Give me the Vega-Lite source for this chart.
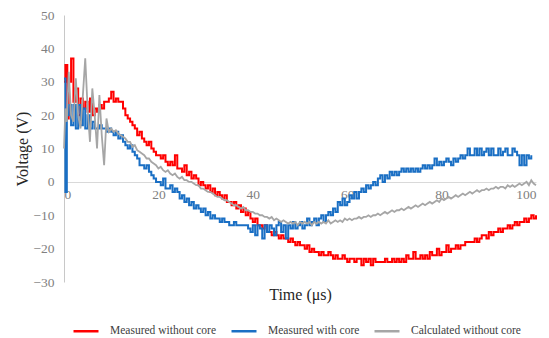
{
"$schema": "https://vega.github.io/schema/vega-lite/v6.json",
"width": 472, "height": 267,
"autosize": "none",
"padding": {"left": 64, "top": 15, "right": 13, "bottom": 56},
"config": {"font": "Liberation Serif", "view": {"stroke": null}, "background": "white"},
"encoding": {
 "x": {"field": "t", "type": "quantitative", "scale": {"domain": [0, 100], "nice": false},
  "axis": {"values": [0,20,40,60,80,100], "offset": -100, "grid": false, "ticks": false, "domainColor": "#D9D9D9", "labelColor": "#808080", "labelFontSize": 13.5, "labelPadding": 5, "title": "Time (μs)", "titleFontSize": 16, "titleFontWeight": "normal", "titleColor": "#262626", "titlePadding": 86}},
 "y": {"field": "v", "type": "quantitative", "scale": {"domain": [-30, 50], "nice": false},
  "axis": {"values": [-30,-20,-10,0,10,20,30,40,50], "grid": false, "ticks": false, "domainColor": "#C8C8C8", "labelColor": "#808080", "labelFontSize": 13.5, "labelPadding": 10, "title": "Voltage (V)", "titleFontSize": 16, "titleFontWeight": "normal", "titleColor": "#262626", "titlePadding": 2}}
},
"layer": [
{"data": {"values": [
{"t":0,"v":30},{"t":0.3,"v":35},{"t":0.7,"v":19},{"t":1,"v":30},{"t":1.5,"v":37},{"t":2,"v":24},{"t":2.5,"v":28},{"t":3,"v":20},{"t":3.5,"v":25},{"t":4,"v":22},{"t":4.5,"v":24},{"t":5,"v":21},{"t":5.5,"v":25},{"t":6,"v":20},{"t":6.5,"v":22},{"t":7,"v":21},{"t":7.5,"v":23},{"t":8,"v":22},{"t":8.5,"v":24},{"t":9,"v":24},{"t":9.5,"v":25},{"t":10,"v":27},{"t":10.5,"v":24},{"t":11,"v":25},{"t":11.5,"v":24},{"t":12,"v":24},{"t":12.5,"v":22},{"t":13,"v":20},{"t":13.5,"v":19},{"t":14,"v":18},{"t":14.5,"v":17},{"t":15,"v":16},{"t":15.5,"v":14},{"t":16,"v":15},{"t":16.5,"v":13},{"t":17,"v":12},{"t":17.5,"v":11},{"t":18,"v":12},{"t":18.5,"v":10},{"t":19,"v":9},{"t":19.5,"v":8},{"t":20,"v":8},{"t":20.5,"v":7},{"t":21,"v":8},{"t":21.5,"v":6},{"t":22,"v":5},{"t":22.5,"v":6},{"t":23,"v":5},{"t":23.5,"v":8},{"t":24,"v":4},{"t":24.5,"v":4},{"t":25,"v":3},{"t":25.5,"v":5},{"t":26,"v":2},{"t":26.5,"v":3},{"t":27,"v":1},{"t":27.5,"v":2},{"t":28,"v":1},{"t":28.5,"v":-1},{"t":29,"v":0},{"t":29.5,"v":-1},{"t":30,"v":-2},{"t":30.5,"v":-1},{"t":31,"v":-3},{"t":31.5,"v":-2},{"t":32,"v":-4},{"t":32.5,"v":-3},{"t":33,"v":-4},{"t":33.5,"v":-5},{"t":34,"v":-4},{"t":34.5,"v":-6},{"t":35,"v":-6},{"t":35.5,"v":-7},{"t":36,"v":-6},{"t":36.5,"v":-8},{"t":37,"v":-7},{"t":37.5,"v":-9},{"t":38,"v":-8},{"t":38.5,"v":-10},{"t":39,"v":-9},{"t":39.5,"v":-11},{"t":40,"v":-12},{"t":40.5,"v":-11},{"t":41,"v":-13},{"t":41.5,"v":-13},{"t":42,"v":-14},{"t":42.5,"v":-13},{"t":43,"v":-15},{"t":43.5,"v":-15},{"t":44,"v":-16},{"t":44.5,"v":-15},{"t":45,"v":-16},{"t":45.5,"v":-17},{"t":46,"v":-16},{"t":46.5,"v":-17},{"t":47,"v":-17},{"t":47.5,"v":-18},{"t":48,"v":-17},{"t":48.5,"v":-18},{"t":49,"v":-19},{"t":49.5,"v":-18},{"t":50,"v":-19},{"t":50.5,"v":-19},{"t":51,"v":-20},{"t":51.5,"v":-19},{"t":52,"v":-21},{"t":52.5,"v":-20},{"t":53,"v":-21},{"t":53.5,"v":-21},{"t":54,"v":-22},{"t":54.5,"v":-21},{"t":55,"v":-22},{"t":55.5,"v":-22},{"t":56,"v":-21},{"t":56.5,"v":-22},{"t":57,"v":-23},{"t":57.5,"v":-22},{"t":58,"v":-23},{"t":58.5,"v":-23},{"t":59,"v":-22},{"t":59.5,"v":-23},{"t":60,"v":-24},{"t":60.5,"v":-23},{"t":61,"v":-23},{"t":61.5,"v":-24},{"t":62,"v":-23},{"t":62.5,"v":-23},{"t":63,"v":-25},{"t":63.5,"v":-23},{"t":64,"v":-24},{"t":64.5,"v":-23},{"t":65,"v":-25},{"t":65.5,"v":-23},{"t":66,"v":-24},{"t":66.5,"v":-24},{"t":67,"v":-24},{"t":67.5,"v":-24},{"t":68,"v":-23},{"t":68.5,"v":-24},{"t":69,"v":-24},{"t":69.5,"v":-23},{"t":70,"v":-24},{"t":70.5,"v":-23},{"t":71,"v":-24},{"t":71.5,"v":-23},{"t":72,"v":-24},{"t":72.5,"v":-22},{"t":73,"v":-23},{"t":73.5,"v":-23},{"t":74,"v":-21},{"t":74.5,"v":-23},{"t":75,"v":-23},{"t":75.5,"v":-22},{"t":76,"v":-23},{"t":76.5,"v":-22},{"t":77,"v":-23},{"t":77.5,"v":-21},{"t":78,"v":-22},{"t":78.5,"v":-22},{"t":79,"v":-20},{"t":79.5,"v":-22},{"t":80,"v":-21},{"t":80.5,"v":-21},{"t":81,"v":-19},{"t":81.5,"v":-21},{"t":82,"v":-20},{"t":82.5,"v":-20},{"t":83,"v":-19},{"t":83.5,"v":-20},{"t":84,"v":-19},{"t":84.5,"v":-19},{"t":85,"v":-18},{"t":85.5,"v":-18},{"t":86,"v":-18},{"t":86.5,"v":-18},{"t":87,"v":-17},{"t":87.5,"v":-18},{"t":88,"v":-17},{"t":88.5,"v":-16},{"t":89,"v":-16},{"t":89.5,"v":-17},{"t":90,"v":-15},{"t":90.5,"v":-16},{"t":91,"v":-15},{"t":91.5,"v":-15},{"t":92,"v":-14},{"t":92.5,"v":-15},{"t":93,"v":-14},{"t":93.5,"v":-14},{"t":94,"v":-13},{"t":94.5,"v":-14},{"t":95,"v":-13},{"t":95.5,"v":-12},{"t":96,"v":-13},{"t":96.5,"v":-12},{"t":97,"v":-12},{"t":97.5,"v":-11},{"t":98,"v":-12},{"t":98.5,"v":-11},{"t":99,"v":-10},{"t":99.5,"v":-11},{"t":100,"v":-10}
]},
 "mark": {"type": "line", "strokeWidth": 2, "interpolate": "step-after"},
 "encoding": {"color": {"datum": "Measured without core", "type": "nominal",
   "scale": {"domain": ["Measured without core", "Measured with core", "Calculated without core"], "range": ["#FF0000", "#1A6FC4", "#A6A6A6"]},
   "legend": {"orient": "none", "legendX": 8, "legendY": 302, "direction": "horizontal", "title": null, "symbolType": "stroke", "symbolSize": 625, "symbolStrokeWidth": 2.5, "labelFontSize": 11.5, "labelColor": "#404040", "labelOffset": 10, "columnPadding": 9, "labelLimit": 300, "labelBaseline": "middle", "padding": 0, "offset": 0}}}},
{"data": {"values": [
{"t":0,"v":31},{"t":0.3,"v":-3},{"t":0.6,"v":20},{"t":1,"v":23},{"t":1.5,"v":17},{"t":2,"v":23},{"t":2.5,"v":16},{"t":3,"v":23},{"t":3.5,"v":17},{"t":4,"v":22},{"t":4.5,"v":16},{"t":5,"v":20},{"t":5.5,"v":16},{"t":6,"v":18},{"t":6.5,"v":16},{"t":7,"v":16},{"t":7.5,"v":17},{"t":8,"v":16},{"t":8.5,"v":16},{"t":9,"v":15},{"t":9.5,"v":16},{"t":10,"v":15},{"t":10.5,"v":14},{"t":11,"v":15},{"t":11.5,"v":13},{"t":12,"v":14},{"t":12.5,"v":12},{"t":13,"v":11},{"t":13.5,"v":10},{"t":14,"v":11},{"t":14.5,"v":9},{"t":15,"v":8},{"t":15.5,"v":7},{"t":16,"v":5},{"t":16.5,"v":5},{"t":17,"v":4},{"t":17.5,"v":5},{"t":18,"v":3},{"t":18.5,"v":2},{"t":19,"v":1},{"t":19.5,"v":0},{"t":20,"v":0},{"t":20.5,"v":-1},{"t":21,"v":1},{"t":21.5,"v":-2},{"t":22,"v":-2},{"t":22.5,"v":-1},{"t":23,"v":-3},{"t":23.5,"v":-2},{"t":24,"v":-3},{"t":24.5,"v":-5},{"t":25,"v":-4},{"t":25.5,"v":-6},{"t":26,"v":-5},{"t":26.5,"v":-7},{"t":27,"v":-6},{"t":27.5,"v":-8},{"t":28,"v":-7},{"t":28.5,"v":-8},{"t":29,"v":-9},{"t":29.5,"v":-8},{"t":30,"v":-10},{"t":30.5,"v":-9},{"t":31,"v":-11},{"t":31.5,"v":-10},{"t":32,"v":-11},{"t":32.5,"v":-11},{"t":33,"v":-12},{"t":33.5,"v":-11},{"t":34,"v":-12},{"t":34.5,"v":-12},{"t":35,"v":-13},{"t":35.5,"v":-13},{"t":36,"v":-12},{"t":36.5,"v":-13},{"t":37,"v":-13},{"t":37.5,"v":-13},{"t":38,"v":-13},{"t":38.5,"v":-13},{"t":39,"v":-14},{"t":39.5,"v":-15},{"t":40,"v":-13},{"t":40.5,"v":-16},{"t":41,"v":-13},{"t":41.5,"v":-14},{"t":42,"v":-17},{"t":42.5,"v":-13},{"t":43,"v":-15},{"t":43.5,"v":-13},{"t":44,"v":-14},{"t":44.5,"v":-16},{"t":45,"v":-13},{"t":45.5,"v":-12},{"t":46,"v":-15},{"t":46.5,"v":-13},{"t":47,"v":-17},{"t":47.5,"v":-13},{"t":48,"v":-14},{"t":48.5,"v":-12},{"t":49,"v":-14},{"t":49.5,"v":-13},{"t":50,"v":-12},{"t":50.5,"v":-14},{"t":51,"v":-13},{"t":51.5,"v":-11},{"t":52,"v":-13},{"t":52.5,"v":-12},{"t":53,"v":-11},{"t":53.5,"v":-13},{"t":54,"v":-11},{"t":54.5,"v":-10},{"t":55,"v":-12},{"t":55.5,"v":-10},{"t":56,"v":-9},{"t":56.5,"v":-10},{"t":57,"v":-8},{"t":57.5,"v":-9},{"t":58,"v":-6},{"t":58.5,"v":-7},{"t":59,"v":-5},{"t":59.5,"v":-7},{"t":60,"v":-6},{"t":60.5,"v":-4},{"t":61,"v":-5},{"t":61.5,"v":-3},{"t":62,"v":-5},{"t":62.5,"v":-3},{"t":63,"v":-2},{"t":63.5,"v":-3},{"t":64,"v":-1},{"t":64.5,"v":-2},{"t":65,"v":-1},{"t":65.5,"v":0},{"t":66,"v":-1},{"t":66.5,"v":1},{"t":67,"v":2},{"t":67.5,"v":0},{"t":68,"v":2},{"t":68.5,"v":1},{"t":69,"v":3},{"t":69.5,"v":2},{"t":70,"v":3},{"t":70.5,"v":2},{"t":71,"v":3},{"t":71.5,"v":4},{"t":72,"v":3},{"t":72.5,"v":4},{"t":73,"v":3},{"t":73.5,"v":4},{"t":74,"v":3},{"t":74.5,"v":4},{"t":75,"v":3},{"t":75.5,"v":4},{"t":76,"v":5},{"t":76.5,"v":4},{"t":77,"v":5},{"t":77.5,"v":4},{"t":78,"v":5},{"t":78.5,"v":7},{"t":79,"v":5},{"t":79.5,"v":6},{"t":80,"v":5},{"t":80.5,"v":6},{"t":81,"v":7},{"t":81.5,"v":6},{"t":82,"v":5},{"t":82.5,"v":7},{"t":83,"v":6},{"t":83.5,"v":7},{"t":84,"v":8},{"t":84.5,"v":7},{"t":85,"v":8},{"t":85.5,"v":10},{"t":86,"v":8},{"t":86.5,"v":8},{"t":87,"v":10},{"t":87.5,"v":8},{"t":88,"v":10},{"t":88.5,"v":8},{"t":89,"v":9},{"t":89.5,"v":10},{"t":90,"v":8},{"t":90.5,"v":10},{"t":91,"v":8},{"t":91.5,"v":8},{"t":92,"v":10},{"t":92.5,"v":8},{"t":93,"v":9},{"t":93.5,"v":10},{"t":94,"v":8},{"t":94.5,"v":8},{"t":95,"v":10},{"t":95.5,"v":9},{"t":96,"v":8},{"t":96.5,"v":5},{"t":97,"v":8},{"t":97.5,"v":5},{"t":98,"v":8},{"t":98.5,"v":7},{"t":99,"v":8}
]},
 "mark": {"type": "line", "strokeWidth": 2, "interpolate": "step-after"},
 "encoding": {"color": {"datum": "Measured with core", "type": "nominal"}}},
{"data": {"values": [
{"t":0,"v":10},{"t":0.3,"v":22},{"t":0.6,"v":18},{"t":1,"v":33},{"t":1.5,"v":20},{"t":2,"v":18},{"t":2.5,"v":31},{"t":3,"v":20},{"t":3.5,"v":16},{"t":4,"v":26},{"t":4.5,"v":37},{"t":5,"v":22},{"t":5.5,"v":12},{"t":6,"v":28},{"t":6.5,"v":20},{"t":7,"v":10},{"t":7.5,"v":26},{"t":8,"v":14},{"t":8.5,"v":5},{"t":9,"v":19},{"t":9.5,"v":15},{"t":10,"v":16},{"t":10.5,"v":15},{"t":11,"v":15.5},{"t":11.5,"v":14.5},{"t":12,"v":14},{"t":12.5,"v":13.5},{"t":13,"v":13},{"t":13.5,"v":12},{"t":14,"v":12},{"t":14.5,"v":10.5},{"t":15,"v":11},{"t":15.5,"v":9.5},{"t":16,"v":9},{"t":16.5,"v":8.5},{"t":17,"v":8},{"t":17.5,"v":7},{"t":18,"v":7},{"t":18.5,"v":6},{"t":19,"v":5.5},{"t":19.5,"v":5},{"t":20,"v":4},{"t":20.5,"v":4.5},{"t":21,"v":3.5},{"t":21.5,"v":3},{"t":22,"v":3.5},{"t":22.5,"v":2.5},{"t":23,"v":2},{"t":23.5,"v":2.5},{"t":24,"v":1.5},{"t":24.5,"v":1},{"t":25,"v":1.5},{"t":25.5,"v":0.5},{"t":26,"v":0.5},{"t":26.5,"v":0},{"t":27,"v":0},{"t":27.5,"v":-0.5},{"t":28,"v":-1},{"t":28.5,"v":-1},{"t":29,"v":-2},{"t":29.5,"v":-2},{"t":30,"v":-2.5},{"t":30.5,"v":-3},{"t":31,"v":-3},{"t":31.5,"v":-3.5},{"t":32,"v":-4},{"t":32.5,"v":-4.5},{"t":33,"v":-4.5},{"t":33.5,"v":-5},{"t":34,"v":-5.5},{"t":34.5,"v":-5.5},{"t":35,"v":-6},{"t":35.5,"v":-6.5},{"t":36,"v":-7},{"t":36.5,"v":-7},{"t":37,"v":-7.5},{"t":37.5,"v":-8},{"t":38,"v":-7.5},{"t":38.5,"v":-8.5},{"t":39,"v":-8.5},{"t":39.5,"v":-9},{"t":40,"v":-9},{"t":40.5,"v":-9.5},{"t":41,"v":-9.5},{"t":41.5,"v":-10},{"t":42,"v":-10},{"t":42.5,"v":-10.5},{"t":43,"v":-10.5},{"t":43.5,"v":-11},{"t":44,"v":-10.5},{"t":44.5,"v":-11.5},{"t":45,"v":-11},{"t":45.5,"v":-11.5},{"t":46,"v":-12},{"t":46.5,"v":-11.5},{"t":47,"v":-12},{"t":47.5,"v":-12.5},{"t":48,"v":-12},{"t":48.5,"v":-12.5},{"t":49,"v":-12},{"t":49.5,"v":-13},{"t":50,"v":-12},{"t":50.5,"v":-12.5},{"t":51,"v":-12},{"t":51.5,"v":-12.5},{"t":52,"v":-12},{"t":52.5,"v":-13},{"t":53,"v":-12},{"t":53.5,"v":-12.5},{"t":54,"v":-12},{"t":54.5,"v":-12.5},{"t":55,"v":-12},{"t":55.5,"v":-12.5},{"t":56,"v":-11.5},{"t":56.5,"v":-12.5},{"t":57,"v":-12},{"t":57.5,"v":-11.5},{"t":58,"v":-12},{"t":58.5,"v":-11.5},{"t":59,"v":-12},{"t":59.5,"v":-11},{"t":60,"v":-11.5},{"t":60.5,"v":-11},{"t":61,"v":-11.5},{"t":61.5,"v":-11},{"t":62,"v":-11},{"t":62.5,"v":-10.5},{"t":63,"v":-11},{"t":63.5,"v":-10.5},{"t":64,"v":-10.5},{"t":64.5,"v":-10},{"t":65,"v":-10.5},{"t":65.5,"v":-10},{"t":66,"v":-10},{"t":66.5,"v":-9.5},{"t":67,"v":-10},{"t":67.5,"v":-9.5},{"t":68,"v":-9},{"t":68.5,"v":-9.5},{"t":69,"v":-9},{"t":69.5,"v":-8.5},{"t":70,"v":-9},{"t":70.5,"v":-8.5},{"t":71,"v":-8.5},{"t":71.5,"v":-8},{"t":72,"v":-8.5},{"t":72.5,"v":-8},{"t":73,"v":-7.5},{"t":73.5,"v":-8},{"t":74,"v":-7.5},{"t":74.5,"v":-7},{"t":75,"v":-7.5},{"t":75.5,"v":-7},{"t":76,"v":-6.5},{"t":76.5,"v":-7},{"t":77,"v":-6.5},{"t":77.5,"v":-6},{"t":78,"v":-6.5},{"t":78.5,"v":-6},{"t":79,"v":-5.5},{"t":79.5,"v":-6},{"t":80,"v":-5},{"t":80.5,"v":-5.5},{"t":81,"v":-5},{"t":81.5,"v":-4.5},{"t":82,"v":-5},{"t":82.5,"v":-4.5},{"t":83,"v":-4},{"t":83.5,"v":-4.5},{"t":84,"v":-4},{"t":84.5,"v":-3.5},{"t":85,"v":-4},{"t":85.5,"v":-3.5},{"t":86,"v":-3},{"t":86.5,"v":-3.5},{"t":87,"v":-3},{"t":87.5,"v":-2.5},{"t":88,"v":-3},{"t":88.5,"v":-2.5},{"t":89,"v":-2.5},{"t":89.5,"v":-2},{"t":90,"v":-2.5},{"t":90.5,"v":-2},{"t":91,"v":-2},{"t":91.5,"v":-1.5},{"t":92,"v":-2},{"t":92.5,"v":-1.5},{"t":93,"v":-1.5},{"t":93.5,"v":-2},{"t":94,"v":-1},{"t":94.5,"v":-1.5},{"t":95,"v":-1},{"t":95.5,"v":-1.5},{"t":96,"v":-1},{"t":96.5,"v":-0.5},{"t":97,"v":-1},{"t":97.5,"v":-0.5},{"t":98,"v":0},{"t":98.5,"v":-1},{"t":99,"v":0.5},{"t":99.5,"v":-0.5},{"t":100,"v":-1}
]},
 "mark": {"type": "line", "strokeWidth": 1.8},
 "encoding": {"color": {"datum": "Calculated without core", "type": "nominal"}}}
]
}
